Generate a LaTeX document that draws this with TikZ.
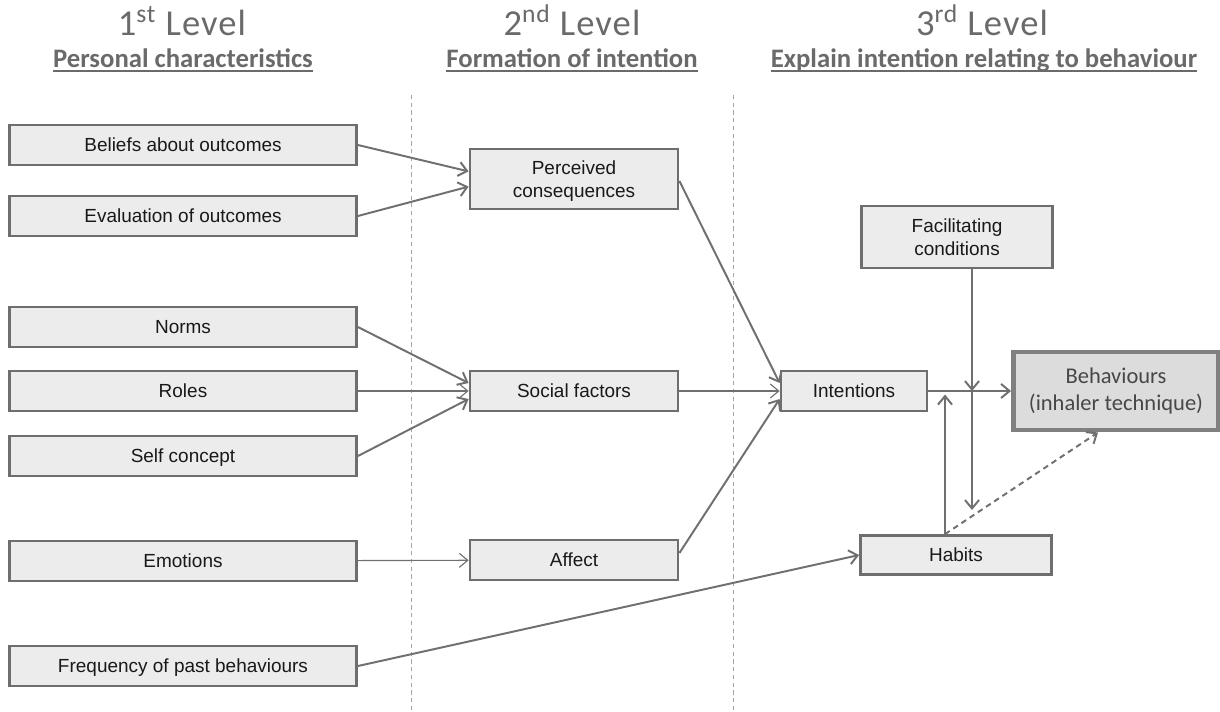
\documentclass[tikz,border=0pt]{standalone}
\usepackage{xcolor}
\usepackage{fontspec}
\setmainfont{Liberation Sans}
\newfontfamily\headfont{Carlito}
\usetikzlibrary{arrows.meta, positioning}

\definecolor{boxgray}{HTML}{6E6E6E}
\definecolor{boxfill}{HTML}{ECECEC}
\definecolor{behfill}{HTML}{DCDCDC}
\definecolor{behgray}{HTML}{808080}
\definecolor{linegray}{HTML}{707070}
\definecolor{headgray}{HTML}{6A6A6A}

\begin{document}
\begin{tikzpicture}[x=0.25mm, y=-0.25mm, node distance=10mm, on grid,
    box/.style={rectangle, draw=boxgray, line width=2pt, fill=boxfill, text=black!90,
        font=\fontsize{13.5}{16.5}\selectfont, align=center, inner sep=0pt},
    oneline/.style={text height=9.7pt, text depth=0pt},
    leftbox/.style={box, oneline, minimum width=86.75mm, minimum height=10mm},
    midbox/.style={box, minimum width=52mm, minimum height=10mm},
    link/.style={draw=linegray, line width=1.4pt, -{Straight Barb[length=6pt,width=10pt]}},
    thinlink/.style={link, line width=0.8pt},
    level/.style={anchor=base, text=headgray,
        font=\headfont\addfontfeature{LetterSpace=3}\fontsize{26}{30}\selectfont},
    sublevel/.style={anchor=base, text=headgray, inner xsep=0pt,
        font=\headfont\bfseries\fontsize{19}{23}\selectfont},
    underline/.style={draw=headgray, line width=1pt},
    separator/.style={draw=gray!70, line width=0.6pt, dash pattern=on 3pt off 2.5pt}]

    \useasboundingbox (0,0) rectangle (1220,711);

    % Headings
    \node (lv1) [level] at (182,35) {1\textsuperscript{st} Level};
    \node (sub1) [sublevel] at (183,67) {Personal characteristics};
    \node (lv2) [level] at (572,35) {2\textsuperscript{nd} Level};
    \node (sub2) [sublevel] at (572,67) {Formation of intention};
    \node (lv3) [level] at (982,35) {3\textsuperscript{rd} Level};
    \node (sub3) [sublevel] at (984,67) {Explain intention relating to behaviour};
    \draw [underline] ([yshift=-1mm]sub1.base west) -- ([yshift=-1mm]sub1.base east);
    \draw [underline] ([yshift=-1mm]sub2.base west) -- ([yshift=-1mm]sub2.base east);
    \draw [underline] ([yshift=-1mm]sub3.base west) -- ([yshift=-1mm]sub3.base east);

    % Column separators
    \draw [separator] (411,95) -- (411,711);
    \draw [separator] (733,95) -- (733,711);

    % 1st level
    \node (beliefs) [leftbox] at (183,145) {Beliefs about outcomes};
    \node (evaluation) [leftbox, below=17.75mm of beliefs] {Evaluation of outcomes};
    \node (norms) [leftbox, below=27.75mm of evaluation] {Norms};
    \node (roles) [leftbox, below=16mm of norms] {Roles};
    \node (selfconcept) [leftbox, below=16.25mm of roles] {Self concept};
    \node (emotions) [leftbox, below=26.25mm of selfconcept] {Emotions};
    \node (frequency) [leftbox, below=26.25mm of emotions] {Frequency of past behaviours};

    % 2nd level
    \node (social) [midbox, oneline, right=97.75mm of roles] {Social factors};
    \node (perceived) [midbox, text depth=0pt, minimum height=15mm, above=53mm of social] {Perceived\\consequences};
    \node (affect) [midbox, oneline, below=42.25mm of social] {Affect};

    % 3rd level
    \node (intentions) [box, oneline, minimum width=36.5mm, minimum height=10mm, right=70mm of social] {Intentions};
    \node (behaviours) [box, line width=3.5pt, draw=behgray, fill=behfill, text=black!72,
        minimum width=51.25mm, minimum height=19.5mm, font=\headfont\fontsize{16}{19.5}\selectfont,
        right=65.5mm of intentions] {Behaviours\\(inhaler technique)};
    \node (facilitating) [box, minimum width=47.75mm, minimum height=15.5mm,
        above right=38.5mm and 25.75mm of intentions] {Facilitating\\conditions};
    \node (habits) [box, oneline, minimum width=47.75mm, minimum height=9.75mm,
        below right=41mm and 25.5mm of intentions] {Habits};

    \coordinate (fmid) at ([xshift=3.75mm]facilitating.south |- intentions.east);
    \coordinate (fend) at ([yshift=-29.75mm]fmid);
    \coordinate (hup) at ([xshift=-2.75mm]habits.north |- intentions.east);

    % Connectors
    \draw [link] (beliefs.east) -- ([yshift=1.9mm]perceived.west);
    \draw [link] (evaluation.east) -- ([yshift=-1.9mm]perceived.west);
    \draw [link] (norms.east) -- ([yshift=2mm]social.west);
    \draw [thinlink] (roles) -- (social);
    \draw [link] (selfconcept.east) -- ([yshift=-2mm]social.west);
    \draw [thinlink] (emotions) -- (affect);

    \draw [link] ([yshift=-0.5mm]perceived.east) -- ([yshift=2mm]intentions.west);
    \draw [thinlink] (social) -- (intentions);
    \draw [link] ([yshift=1.75mm]affect.east) -- ([yshift=-2mm]intentions.west);
    \draw [link] (frequency.east) -- (habits.west);

    \draw [link] (intentions) -- (behaviours);
    \draw [link] ([xshift=3.75mm]facilitating.south) -- (fmid);
    \draw [link] (fmid) -- (fend);
    \draw [link] ([xshift=-2.75mm]habits.north) -- ([yshift=-0.9mm]hup);
    \draw [link, dash pattern=on 4pt off 3pt] ([xshift=-2.75mm]habits.north) -- ([xshift=-4.5mm]behaviours.south);

\end{tikzpicture}
\end{document}
